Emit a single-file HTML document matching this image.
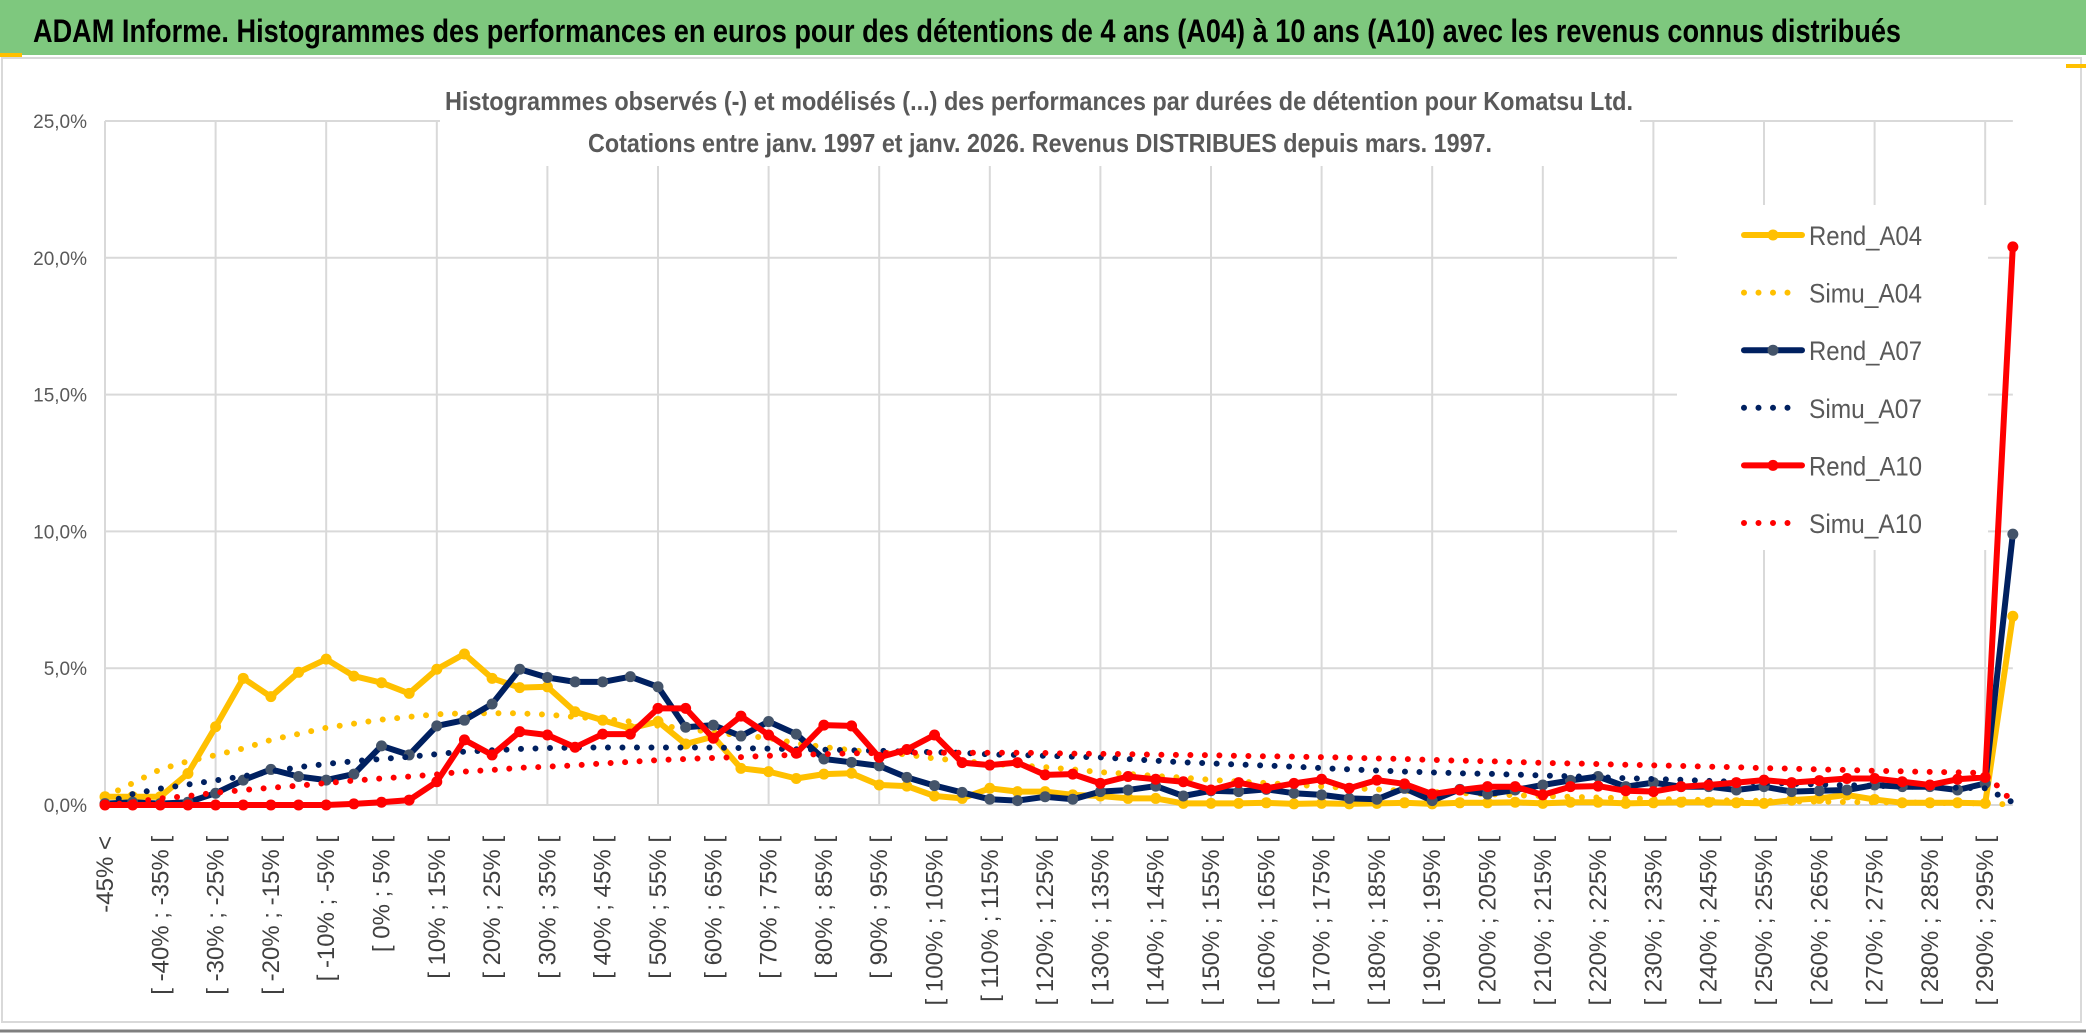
<!DOCTYPE html>
<html><head><meta charset="utf-8">
<style>
html,body{margin:0;padding:0;background:#fff;}
svg{display:block;font-family:"Liberation Sans",sans-serif;}
</style></head>
<body>
<svg id="chart" width="2086" height="1033" viewBox="0 0 2086 1033" xmlns="http://www.w3.org/2000/svg">
  <rect x="0" y="0" width="2086" height="1033" fill="#fff"/>
  <rect x="2" y="58" width="2079" height="964" fill="none" stroke="#d9d9d9" stroke-width="2"/>
  <line x1="0" y1="1031" x2="2086" y2="1031" stroke="#7f7f7f" stroke-width="3"/>
  <rect x="0" y="0" width="2086" height="55" fill="#7ec87e"/>
  <rect x="0" y="53" width="22" height="4" fill="#ffc000"/>
  <rect x="2066" y="64" width="20" height="4" fill="#ffc000"/>
  <text x="33" y="42" font-size="32" font-weight="bold" fill="#000" textLength="1868" lengthAdjust="spacingAndGlyphs">ADAM Informe. Histogrammes des performances en euros pour des détentions de 4 ans (A04) à 10 ans (A10) avec les revenus connus distribués</text>
  <g id="grid"></g>
  <rect x="440" y="72" width="1200" height="94" fill="#fff"/>
  <text x="445" y="110" font-size="26" font-weight="bold" fill="#595959" textLength="1188" lengthAdjust="spacingAndGlyphs">Histogrammes observés (-) et modélisés (...) des performances par durées de détention pour Komatsu Ltd.</text>
  <text x="588" y="152" font-size="26" font-weight="bold" fill="#595959" textLength="904" lengthAdjust="spacingAndGlyphs">Cotations entre janv. 1997 et janv. 2026.  Revenus DISTRIBUES depuis mars. 1997.</text>
  <g id="yaxis"></g>
  <g id="xaxis"></g>
  <rect x="1677" y="205" width="311" height="345" fill="#fff"/>
  <g id="series"></g>
  <g id="legend"></g>
</svg>
<script>
const yTicks = [0, 5, 10, 15, 20, 25];
const yTickLabels = ["0,0%", "5,0%", "10,0%", "15,0%", "20,0%", "25,0%"];
const rendA04 = [0.3,0.3,0.3,1.15,2.86,4.63,3.96,4.85,5.33,4.71,4.47,4.08,4.96,5.52,4.63,4.29,4.32,3.41,3.1,2.8,3.05,2.23,2.5,1.34,1.22,0.97,1.13,1.16,0.73,0.69,0.33,0.24,0.61,0.49,0.49,0.37,0.33,0.24,0.24,0.06,0.06,0.06,0.08,0.04,0.06,0.04,0.06,0.08,0.04,0.08,0.08,0.1,0.06,0.1,0.1,0.06,0.08,0.1,0.1,0.08,0.06,0.18,0.24,0.37,0.2,0.08,0.08,0.08,0.06,6.9];
const simuA04 = [0.3,0.8,1.3,1.6,1.82,2.07,2.38,2.6,2.82,2.97,3.12,3.22,3.32,3.35,3.35,3.35,3.3,3.22,3.15,3.05,2.9,2.8,2.65,2.55,2.45,2.25,2.12,2.0,1.92,1.85,1.7,1.62,1.5,1.45,1.38,1.3,1.2,1.14,1.06,1.0,0.92,0.86,0.8,0.74,0.68,0.62,0.57,0.52,0.48,0.44,0.4,0.36,0.33,0.3,0.27,0.25,0.22,0.2,0.18,0.16,0.15,0.13,0.12,0.11,0.1,0.09,0.08,0.07,0.06,0.02];
const rendA07 = [0.05,0.1,0.05,0.1,0.43,0.91,1.3,1.04,0.91,1.13,2.16,1.83,2.89,3.1,3.69,4.96,4.66,4.5,4.5,4.69,4.32,2.84,2.92,2.52,3.05,2.59,1.68,1.56,1.43,1.01,0.71,0.46,0.21,0.16,0.3,0.21,0.49,0.55,0.69,0.33,0.52,0.49,0.57,0.43,0.37,0.24,0.21,0.61,0.16,0.57,0.4,0.55,0.73,0.9,1.04,0.67,0.82,0.67,0.67,0.55,0.67,0.49,0.52,0.55,0.73,0.67,0.67,0.55,0.79,9.9];
const simuA07 = [0.06,0.4,0.6,0.75,0.9,1.05,1.22,1.38,1.5,1.6,1.68,1.76,1.86,1.95,2.0,2.05,2.08,2.1,2.1,2.1,2.1,2.1,2.1,2.08,2.06,2.04,2.02,2.0,1.98,1.95,1.93,1.91,1.85,1.83,1.8,1.77,1.74,1.68,1.62,1.56,1.52,1.48,1.44,1.4,1.35,1.3,1.26,1.22,1.19,1.16,1.14,1.11,1.08,1.05,1.02,0.98,0.95,0.92,0.88,0.85,0.82,0.78,0.75,0.72,0.7,0.68,0.66,0.63,0.61,0.1];
const rendA10 = [0,0,0,0,0,0,0,0,0,0.04,0.1,0.18,0.85,2.38,1.83,2.68,2.56,2.11,2.59,2.59,3.53,3.53,2.44,3.25,2.56,1.89,2.92,2.89,1.74,2.03,2.56,1.55,1.46,1.55,1.1,1.13,0.79,1.04,0.94,0.85,0.55,0.82,0.61,0.79,0.94,0.61,0.91,0.77,0.4,0.55,0.67,0.67,0.37,0.67,0.69,0.52,0.49,0.67,0.73,0.82,0.91,0.82,0.89,0.97,0.97,0.85,0.73,0.94,1.01,20.4];
const simuA10 = [0,0.1,0.24,0.33,0.45,0.55,0.63,0.71,0.8,0.89,0.97,1.04,1.12,1.22,1.28,1.36,1.4,1.45,1.52,1.58,1.64,1.68,1.72,1.75,1.8,1.83,1.86,1.89,1.9,1.91,1.91,1.91,1.91,1.91,1.9,1.88,1.87,1.86,1.84,1.83,1.82,1.8,1.78,1.77,1.75,1.73,1.7,1.68,1.65,1.62,1.6,1.57,1.54,1.52,1.5,1.47,1.45,1.43,1.4,1.38,1.35,1.33,1.3,1.28,1.25,1.23,1.21,1.19,1.17,0.1];
const seriesNames = ["Rend_A04","Simu_A04","Rend_A07","Simu_A07","Rend_A10","Simu_A10"];

const NS = "http://www.w3.org/2000/svg";
const X0 = 105, DX = 27.65, Y0 = 805, PY = 27.36;
const nCat = rendA04.length;
function xScale(i){ return X0 + i*DX; }
function yScale(v){ return Y0 - v*PY; }
function mk(tag, attrs, parent){
  const e = document.createElementNS(NS, tag);
  for (const k in attrs) e.setAttribute(k, attrs[k]);
  parent.appendChild(e);
  return e;
}
function catLabel(i){
  if (i === 0) return "-45% <";
  const a = -50 + 5*i, b = -45 + 5*i;
  return "[ " + a + "% ; " + b + "% [";
}

const grid = document.getElementById("grid");
const xRight = xScale(nCat-1);
yTicks.forEach((t, k) => {
  const ln = mk("line", {x1:X0, x2:xRight, y1:yScale(t), y2:yScale(t), stroke:"#d9d9d9", "stroke-width":2}, grid);
  
  
});
for (let i = 0; i < nCat; i += 4){
  const ln = mk("line", {x1:xScale(i), x2:xScale(i), y1:yScale(25), y2:yScale(0), stroke:"#d9d9d9", "stroke-width":2}, grid);
  
  
}

const yaxis = document.getElementById("yaxis");
yTicks.forEach((t, k) => {
  const tx = mk("text", {x:87, y:yScale(t)+7, "text-anchor":"end", "font-size":19, fill:"#595959"}, yaxis);
  tx.textContent = yTickLabels[k];
  
  
});

const xaxis = document.getElementById("xaxis");
for (let i = 0; i < nCat; i += 2){
  const cx = xScale(i) + 8;
  const tx = mk("text", {x:0, y:0, "text-anchor":"end", "font-size":24, fill:"#404040", transform:"translate("+cx+",836) rotate(-90)"}, xaxis);
  tx.textContent = catLabel(i);
  
  
}

const series = document.getElementById("series");
function pts(arr){ return arr.map((v,i) => xScale(i).toFixed(1)+","+yScale(v).toFixed(1)).join(" "); }
function drawRend(arr, color, markerColor, name){
  const g = mk("g", {}, series);
  
  
  const pl = mk("polyline", {points:pts(arr), fill:"none", stroke:color, "stroke-width":6, "stroke-linejoin":"round", "stroke-linecap":"round"}, g);
  
  
  arr.forEach((v,i) => {
    const c = mk("circle", {cx:xScale(i), cy:yScale(v), r:5.5, fill:markerColor}, g);
    
    
  });
}
function drawSimu(arr, color, name){
  const pl = mk("polyline", {points:pts(arr), fill:"none", stroke:color, "stroke-width":6, "stroke-dasharray":"0 14.5", "stroke-linecap":"round"}, series);
  
  
}
drawRend(rendA04, "#ffc000", "#ffc000", "rend-a04");
drawSimu(simuA04, "#ffc000", "simu-a04");
drawRend(rendA07, "#002060", "#44546a", "rend-a07");
drawSimu(simuA07, "#002060", "simu-a07");
drawRend(rendA10, "#ff0000", "#ff0000", "rend-a10");
drawSimu(simuA10, "#ff0000", "simu-a10");

const legend = document.getElementById("legend");
const legColors = ["#ffc000","#ffc000","#002060","#002060","#ff0000","#ff0000"];
const legMarkers = ["#ffc000",null,"#44546a",null,"#ff0000",null];
seriesNames.forEach((nm, k) => {
  const y = 235 + k*57.6;
  const g = mk("g", {}, legend);
  
  
  if (k % 2 === 0){
    mk("line", {x1:1744, x2:1802, y1:y, y2:y, stroke:legColors[k], "stroke-width":6, "stroke-linecap":"round"}, g);
    mk("circle", {cx:1773, cy:y, r:5.5, fill:legMarkers[k]}, g);
  } else {
    mk("line", {x1:1744, x2:1802, y1:y, y2:y, stroke:legColors[k], "stroke-width":6, "stroke-dasharray":"0 14.5", "stroke-linecap":"round"}, g);
  }
  const tx = mk("text", {x:1809, y:y+10, "font-size":27, fill:"#595959", textLength:113, lengthAdjust:"spacingAndGlyphs"}, g);
  tx.textContent = nm;
});
</script>
</body></html>
